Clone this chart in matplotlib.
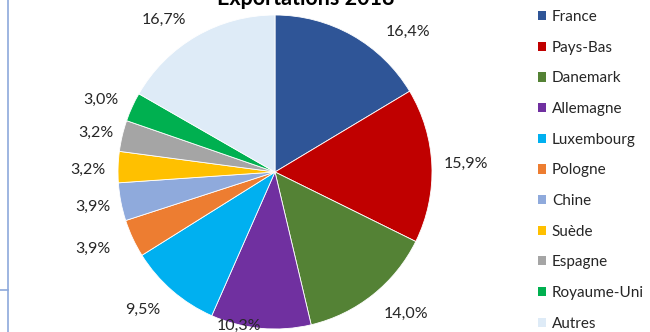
import matplotlib.pyplot as plt
import numpy as np
from matplotlib.patches import Patch
from matplotlib.lines import Line2D

plt.rcParams['font.family'] = ['Lato', 'DejaVu Sans']

countries = ["France", "Pays-Bas", "Danemark", "Allemagne", "Luxembourg", "Pologne",
             "Chine", "Suède", "Espagne", "Royaume-Uni", "Autres"]
shares = [16.4, 15.9, 14.0, 10.3, 9.5, 3.9, 3.9, 3.2, 3.2, 3.0, 16.7]
colors = ["#2F5597", "#C00000", "#548235", "#7030A0", "#00B0F0", "#ED7D31",
          "#8FAADC", "#FFC000", "#A5A5A5", "#00B050", "#DEEBF7"]

# label distance (in radii) and small angular nudges, to mimic the excel best-fit placement
label_r = [1.23, 1.22, 1.23, 1.01, 1.22, 1.26, 1.18, 1.19, 1.17, 1.2, 1.2]
label_dtheta = [-14, 0, 4, -8, -3, -2, 0, 1, 1, 2, 6]

fig = plt.figure(figsize=(6.5, 3.32), dpi=100)
cx, cy, R = 275, 172, 157
ax = fig.add_axes([(cx - R) / 650, (332 - cy - R) / 332, 2 * R / 650, 2 * R / 332])

wedges, _ = ax.pie(shares, colors=colors, startangle=90, counterclock=False,
                   wedgeprops=dict(edgecolor="white", linewidth=0.6))
ax.set_xlim(-1, 1)
ax.set_ylim(-1, 1)
ax.set_aspect("equal")
ax.axis("off")

for w, v, r, dt in zip(wedges, shares, label_r, label_dtheta):
    theta = np.deg2rad((w.theta1 + w.theta2) / 2 + dt)
    txt = f"{v:.1f}".replace(".", ",") + "%"
    ax.text(r * np.cos(theta), r * np.sin(theta), txt, ha="center", va="center",
            fontsize=11.5, color="#262626", clip_on=False)

fig.text(306 / 650, 1 - 5 / 332, "Exportations 2018", ha="center", va="baseline",
         fontsize=15.5, fontweight="bold", color="black")

handles = [Patch(facecolor=c, edgecolor="none") for c in colors]
fig.legend(handles, countries, loc="upper left", bbox_to_anchor=(535 / 650, 1 - 7 / 332),
           frameon=False, fontsize=11, handlelength=0.55, handleheight=0.55,
           handletextpad=0.35, labelspacing=1.09, borderaxespad=0, borderpad=0.2,
           labelcolor="#262626")

# frame remnants on the left
fig.add_artist(Line2D([7.5 / 650, 7.5 / 650], [0, 1], color="#8EA9DB", linewidth=1.2))
fig.add_artist(Line2D([0, 7.5 / 650], [1 - 290 / 332, 1 - 290 / 332], color="#8EA9DB", linewidth=1.2))

fig.savefig("out.png", dpi=100)
